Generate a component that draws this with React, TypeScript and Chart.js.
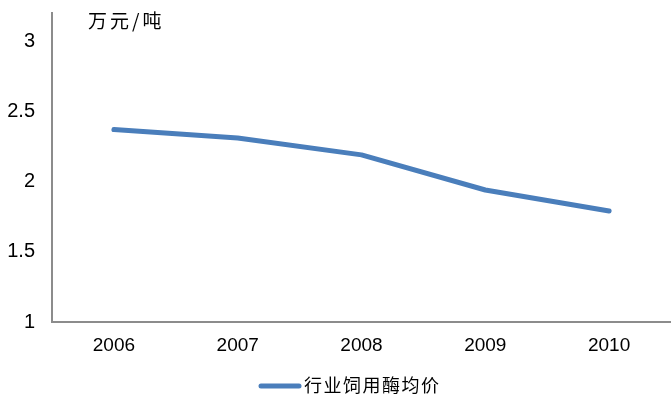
import React, { useEffect, useRef } from "react";
import { Chart, registerables } from "chart.js";

Chart.register(...registerables);

// Industry average price of feed enzymes, 10k yuan per tonne
const years = ["2006", "2007", "2008", "2009", "2010"];
const avgPrice = [2.37, 2.31, 2.19, 1.94, 1.79];
const seriesName = "行业饲用酶均价";
const unitLabel = "万元/吨";
const yMin = 1;
const yMax = 3.2;
const yStep = 0.5;

const LINE_COLOR = "#4a7ebb";
const AXIS_COLOR = "#8c8c8c";
const LATIN_FONT = "'Liberation Sans', Arial, sans-serif";
const CJK_FONT = "'Noto Sans CJK SC', sans-serif";

// Unit caption and the legend entry under the plot
const annotations = {
  id: "annotations",
  afterDraw(chart: Chart) {
    const ctx = chart.ctx as any;
    ctx.save();
    ctx.fillStyle = "#000";
    ctx.textBaseline = "middle";
    ctx.textAlign = "left";
    ctx.font = `19px ${CJK_FONT}`;
    ctx.letterSpacing = "3px";
    ctx.fillText(unitLabel, 88, 21);

    // legend
    ctx.strokeStyle = LINE_COLOR;
    ctx.lineWidth = 5;
    ctx.lineCap = "round";
    ctx.beginPath();
    ctx.moveTo(261, 386);
    ctx.lineTo(299, 386);
    ctx.stroke();
    ctx.font = `18px ${CJK_FONT}`;
    ctx.letterSpacing = "1.5px";
    ctx.fillText(seriesName, 304, 385);
    ctx.restore();
  },
};

export default function App() {
  const ref = useRef<HTMLCanvasElement | null>(null);

  useEffect(() => {
    if (!ref.current) return;
    const chart = new Chart(ref.current, {
      type: "line",
      data: {
        labels: years,
        datasets: [
          {
            label: seriesName,
            data: avgPrice,
            borderColor: LINE_COLOR,
            backgroundColor: LINE_COLOR,
            borderWidth: 5,
            borderCapStyle: "round",
            borderJoinStyle: "round",
            pointRadius: 0,
            tension: 0,
          },
        ],
      },
      options: {
        animation: false,
        responsive: false,
        maintainAspectRatio: false,
        layout: { padding: { top: 13, left: 0, right: 0, bottom: 0 } },
        plugins: {
          legend: { display: false },
          tooltip: { enabled: false },
        },
        scales: {
          x: {
            offset: true,
            grid: { display: false, drawTicks: false },
            border: { color: AXIS_COLOR, width: 2 },
            ticks: {
              color: "#000",
              font: { family: LATIN_FONT, size: 19 },
              padding: 12,
              maxRotation: 0,
            },
            afterFit: (s: any) => {
              s.height = 72;
              s.paddingLeft = 0;
              s.paddingRight = 0;
            },
          },
          y: {
            min: yMin,
            max: yMax,
            grid: { display: false, drawTicks: false },
            border: { color: AXIS_COLOR, width: 2 },
            ticks: {
              stepSize: yStep,
              color: "#000",
              font: { family: LATIN_FONT, size: 20 },
              padding: 17,
              callback: (v: any) => String(Number(v)),
            },
            afterBuildTicks: (s: any) => {
              s.ticks = s.ticks.filter(
                (t: any) => Math.abs(t.value / yStep - Math.round(t.value / yStep)) < 1e-9
              );
            },
            afterFit: (s: any) => {
              s.width = 52;
              s.paddingTop = 0;
              s.paddingBottom = 0;
            },
          },
        },
      },
      plugins: [annotations],
    });
    return () => chart.destroy();
  }, []);

  return (
    <div style={{ position: "fixed", left: 0, top: 0, width: 671, height: 394, background: "#fff" }}>
      <canvas ref={ref} width={671} height={394} style={{ display: "block" }} />
    </div>
  );
}
